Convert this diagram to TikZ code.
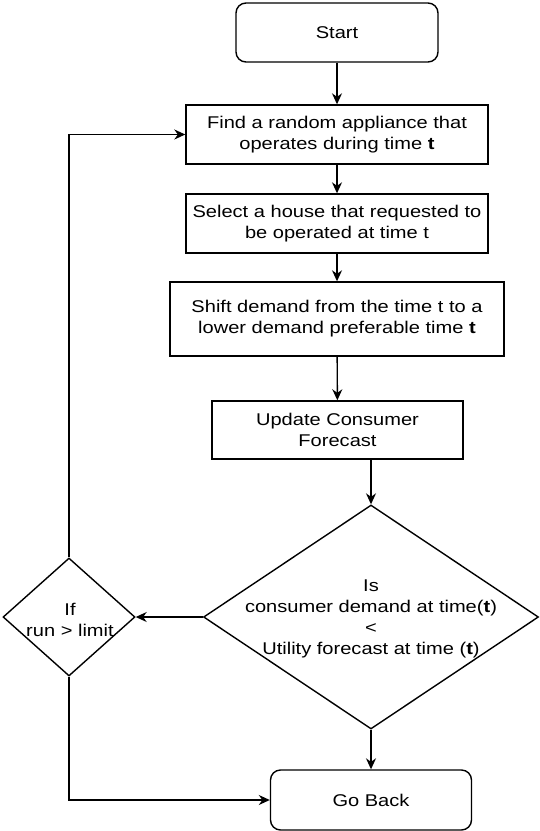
\documentclass[tikz,border=0pt]{standalone}
\usepackage{fontspec}
\setmainfont[FakeStretch=1.18]{Liberation Sans}
\usetikzlibrary{shapes.geometric,arrows.meta}
\begin{document}
\begin{tikzpicture}[x=1pt,y=-1pt,
  every node/.style={font=\fontsize{17}{21}\selectfont, align=center},
  procbox/.style={draw, line width=1.4pt, rectangle, inner sep=0pt},
  termbox/.style={draw, line width=1.4pt, rectangle, rounded corners=10pt, inner sep=0pt},
  decbox/.style={draw, line width=1.4pt, diamond, inner sep=0pt},
  conn/.style={line width=1.4pt, -{Stealth[length=11pt,width=10pt]}},
  plain/.style={line width=1.4pt}
]
\useasboundingbox (0,0) rectangle (540,831);
\node[termbox, minimum width=202pt, minimum height=59pt] (start) at (337,32.5) {Start};
\node[procbox, minimum width=302pt, minimum height=59pt] (b1) at (337,134.5) {Find a random appliance that\\operates during time \textbf{t}};
\node[procbox, minimum width=302pt, minimum height=59pt] (b2) at (337,223.5) {Select a house that requested to\\be operated at time t};
\node[procbox, minimum width=334pt, minimum height=74pt] (b3) at (337,319) {Shift demand from the time t to a\\lower demand preferable time \textbf{t}};
\node[procbox, minimum width=251pt, minimum height=58pt] (b4) at (337.5,430) {Update Consumer\\Forecast};
\node[decbox, minimum width=335pt, minimum height=224pt] (dec) at (371,617) {};
\node (dectext) at (371,619) {Is\\consumer demand at time(\textbf{t})\\<\\Utility forecast at time (\textbf{t})};
\node[decbox, minimum width=132pt, minimum height=118pt] (lim) at (69,617) {};
\node (limtext) at (70,620) {If\\run > limit};
\node[termbox, minimum width=201pt, minimum height=60pt] (back) at (371,800) {Go Back};

\draw[conn] (start) -- (b1);
\draw[conn] (b1) -- (b2);
\draw[conn] (b2) -- (b3);
\draw[conn] (b3) -- (b4);
\draw[conn] (b4.south -| dec.north) -- (dec.north);
\draw[conn] (dec.west) -- (lim.east);
\draw[conn] (lim.north) |- (b1.west);
\draw[conn] (lim.south) |- (back.west);
\draw[conn] (dec.south) -- (back.north);
\end{tikzpicture}
\end{document}
